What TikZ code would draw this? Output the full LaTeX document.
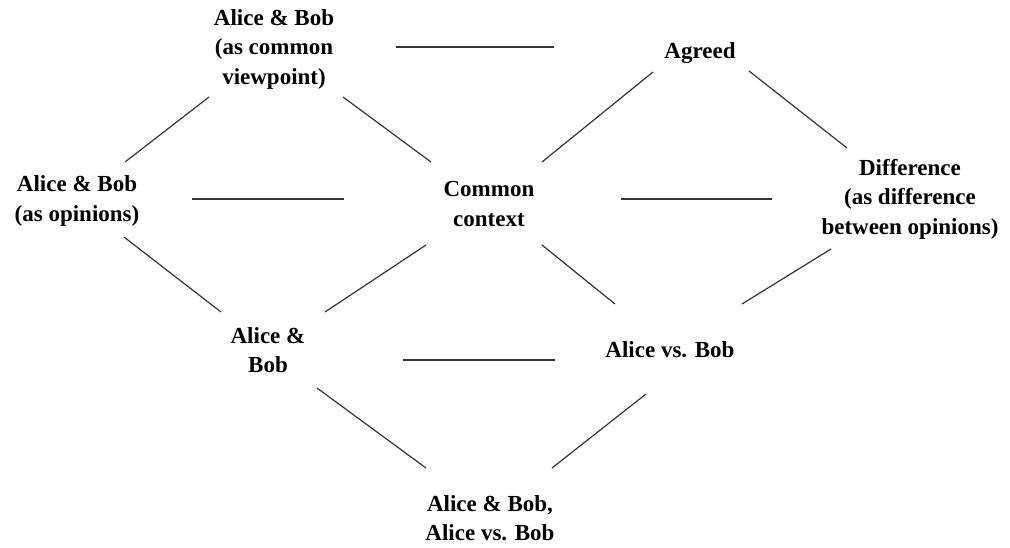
\documentclass[tikz,border=0pt]{standalone}
\usepackage{fontspec}
\setmainfont{Liberation Serif}
\begin{document}
\begin{tikzpicture}[x=1pt,y=-1pt,
  lbl/.style={font=\bfseries\fontsize{23}{29.5}\selectfont, align=center, inner sep=0pt, text=black},
  edge/.style={line width=1.2pt, draw=black!80}]
\useasboundingbox (0,0) rectangle (1010,547);

% concepts of the lattice
\node[lbl] (cv)  at (274,49)  {Alice \& Bob\\(as common\\viewpoint)};
\node[lbl] (ag)  at (700,53)  {Agreed};
\node[lbl] (op)  at (77,201)  {Alice \& Bob\\(as opinions)};
\node[lbl] (cc)  at (489,204) {Common\\context};
\node[lbl] (df)  at (910,199) {Difference\\(as difference\\between opinions)};
\node[lbl] (ab)  at (268,350) {Alice \&\\Bob};
\node[lbl] (avb) at (670,350) {Alice vs. Bob};
\node[lbl] (bt)  at (490,518) {Alice \& Bob,\\Alice vs. Bob};

% links between concepts
\draw[edge] ([shift={(122,-2)}]cv.center) -- ([shift={(-146,-6)}]ag.center);
\draw[edge] ([shift={(-65,48)}]cv.center) -- ([shift={(48,-39)}]op.center);
\draw[edge] ([shift={(69,48)}]cv.center) -- ([shift={(-58,-42)}]cc.center);
\draw[edge] ([shift={(-47,19)}]ag.center) -- ([shift={(53,-42)}]cc.center);
\draw[edge] ([shift={(49,18)}]ag.center) -- ([shift={(-63,-51)}]df.center);
\draw[edge] ([shift={(115,-2)}]op.center) -- ([shift={(-145,-5)}]cc.center);
\draw[edge] ([shift={(132,-5)}]cc.center) -- ([shift={(-138,0)}]df.center);
\draw[edge] ([shift={(47,36)}]op.center) -- ([shift={(-47,-38)}]ab.center);
\draw[edge] ([shift={(-63,41)}]cc.center) -- ([shift={(57,-38)}]ab.center);
\draw[edge] ([shift={(53,41)}]cc.center) -- ([shift={(-55,-46)}]avb.center);
\draw[edge] ([shift={(-79,50)}]df.center) -- ([shift={(72,-46)}]avb.center);
\draw[edge] ([shift={(135,10)}]ab.center) -- ([shift={(-115,10)}]avb.center);
\draw[edge] ([shift={(49,38)}]ab.center) -- ([shift={(-64,-50)}]bt.center);
\draw[edge] ([shift={(-24,44)}]avb.center) -- ([shift={(62,-50)}]bt.center);
\end{tikzpicture}
\end{document}
